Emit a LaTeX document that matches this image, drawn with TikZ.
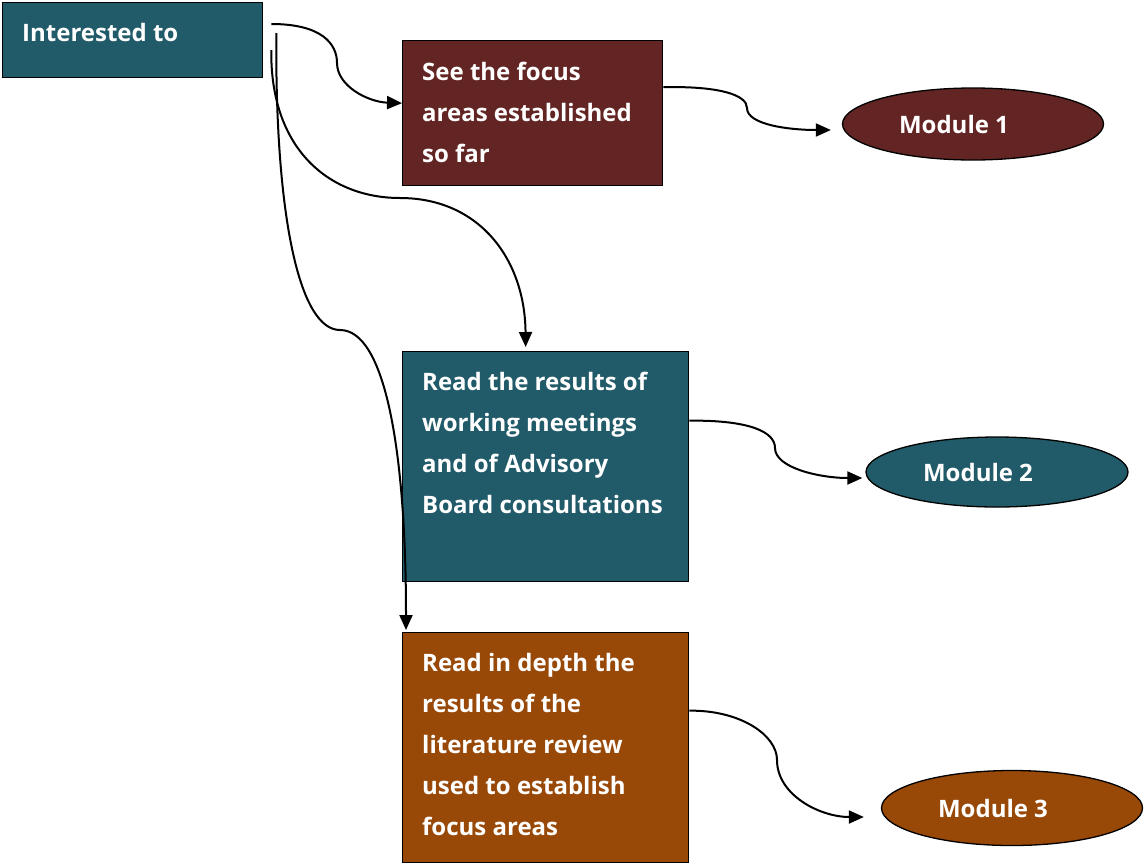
\documentclass[tikz,border=0pt]{standalone}
\usepackage{fontspec}
\setmainfont{Open Sans}
\usetikzlibrary{arrows.meta,shapes.geometric,calc}
\definecolor{teal1}{HTML}{215A68}
\definecolor{maroon1}{HTML}{632523}
\definecolor{brown1}{HTML}{984807}
\newcommand{\mylines}[1]{\begin{tabular}[t]{@{}l@{}}#1\end{tabular}}
\tikzset{
  box/.style={draw=black, line width=1.3pt, rectangle, inner sep=0pt, anchor=north west},
  modell/.style={draw=black, line width=1.3pt, ellipse, inner sep=0pt},
  txt/.style={text=white, font=\fontsize{24}{41}\selectfont\bfseries, anchor=base west, inner sep=0pt},
  conn/.style={draw=black, line width=2pt, -{Triangle[length=15pt,width=13pt]}},
}
\begin{document}
\begin{tikzpicture}[x=1pt,y=-1pt]
\useasboundingbox (0,0) rectangle (1145,865);
% boxes
\node[box, fill=teal1, minimum width=260, minimum height=75] (b0) at (2,2) {};
\node[box, fill=maroon1, minimum width=260, minimum height=145] (b1) at (402,40) {};
\node[box, fill=teal1, minimum width=286, minimum height=230] (b2) at (402,351) {};
\node[box, fill=brown1, minimum width=286, minimum height=230] (b3) at (402,632) {};
% ellipses
\node[modell, fill=maroon1, minimum width=261, minimum height=72] (m1) at (973,124) {};
\node[modell, fill=teal1, minimum width=262, minimum height=70] (m2) at (997,472) {};
\node[modell, fill=brown1, minimum width=261, minimum height=75] (m3) at (1012,808) {};
% texts
\node[txt] (t0) at (22,41) {Interested to};
\node[txt] (t1) at (422,80) {\mylines{See the focus\\areas established\\so far}};
\node[txt] (t2) at (422,390) {\mylines{Read the results of\\working meetings\\and of Advisory\\Board consultations}};
\node[txt] (t3) at (422,671) {\mylines{Read in depth the\\results of the\\literature review\\used to establish\\focus areas}};
\node[txt, anchor=base] (l1) at (954,133) {Module 1};
\node[txt, anchor=base] (l2) at (978,481) {Module 2};
\node[txt, anchor=base] (l3) at (993,817) {Module 3};
% connector start points
\coordinate (s1) at ($(b0.north east)+(8,22)$);
\coordinate (s2) at ($(b0.north east)+(8,48)$);
\coordinate (s3) at ($(b0.north east)+(13,31)$);
% connectors from Interested to
\draw[conn] (s1) .. controls (322,24) and (337,44) .. (337,63)
  .. controls (337,86) and (368,102) .. ($(b1.west)+(0,-10)$);
\draw[conn] (s2) .. controls (270,150) and (330,198) .. (400,198)
  .. controls (480,198) and (525,260) .. ($(b2.north)+(-20,-4)$);
\draw[conn] (s3) .. controls (275,220) and (300,330) .. (340,330)
  .. controls (385,330) and (406,450) .. ($(b3.north west)+(4,-2)$);
% connectors to modules
\draw[conn] ($(b1.east)+(0,-26)$) .. controls (720,86) and (747,95) .. (747,108)
  .. controls (747,125) and (790,130) .. ($(m1.west)+(-11,6)$);
\draw[conn] ($(b2.east)+(0,-46)$) .. controls (750,420) and (775,432) .. (775,448)
  .. controls (775,468) and (820,478) .. ($(m2.west)+(-3,6)$);
\draw[conn] ($(b3.east)+(0,-37)$) .. controls (740,710) and (777,735) .. (777,760)
  .. controls (777,795) and (820,817) .. ($(m3.west)+(-17,9)$);
\end{tikzpicture}
\end{document}
